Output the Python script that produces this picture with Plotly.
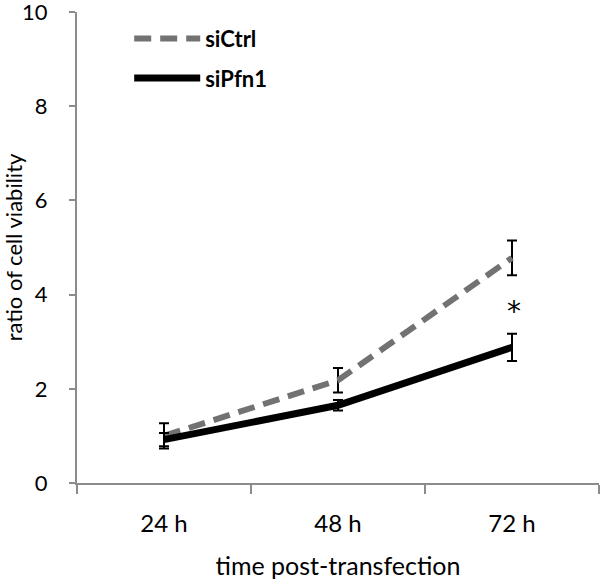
import plotly.graph_objects as go

categories = ["24 h", "48 h", "72 h"]
ctrl_vals = [1.0, 2.18, 4.78]
ctrl_err = [0.27, 0.26, 0.37]
pfn1_vals = [0.92, 1.65, 2.88]
pfn1_err = [0.14, 0.11, 0.29]
series_names = ["siCtrl", "siPfn1"]
y_ticks = [0, 2, 4, 6, 8, 10]
star_label = "*"
star_y = 3.64

FONT = "Lato, 'Open Sans', sans-serif"
AXIS_GRAY = "#8c8c8c"

fig = go.Figure()
fig.add_trace(go.Scatter(
    x=categories, y=ctrl_vals, name=series_names[0], mode="lines",
    line=dict(color="#727272", width=6, dash="17px,9px"),
    error_y=dict(type="data", array=ctrl_err, color="black", thickness=2, width=5),
    legendgroup="a",
))
fig.add_trace(go.Scatter(
    x=categories, y=pfn1_vals, name=series_names[1], mode="lines",
    line=dict(color="black", width=7),
    error_y=dict(type="data", array=pfn1_err, color="black", thickness=2, width=5),
    legendgroup="b",
))
fig.add_annotation(x=categories[2], y=star_y, text=star_label, showarrow=False,
                   font=dict(size=28, color="#000000", family="DejaVu Sans"), xshift=2)

fig.update_layout(
    width=600, height=585,
    margin=dict(l=77, r=1, t=12, b=102, autoexpand=False),
    plot_bgcolor="white", paper_bgcolor="white",
    font=dict(family=FONT, size=23, color="black"),
    showlegend=True,
    legend=dict(x=0.1, y=0.988, xanchor="left", yanchor="top",
                font=dict(size=22, family=FONT, color="black", weight="bold"),
                itemwidth=66, tracegroupgap=8, bgcolor="rgba(0,0,0,0)"),
    xaxis=dict(
        type="category", range=[-0.5, 2.5], tickson="boundaries", automargin=False,
        showline=True, linecolor=AXIS_GRAY, linewidth=2,
        ticks="outside", ticklen=9, tickwidth=2, tickcolor=AXIS_GRAY,
        showgrid=False, zeroline=False,
        tickfont=dict(size=24), ticklabelstandoff=18,
        title=dict(text="time post-transfection", font=dict(size=25), standoff=22),
    ),
    yaxis=dict(
        range=[0, 10], tickvals=y_ticks, automargin=False, ticklabeloverflow="allow",
        showline=True, linecolor=AXIS_GRAY, linewidth=2,
        ticks="outside", ticklen=6, tickwidth=2, tickcolor=AXIS_GRAY,
        showgrid=False, zeroline=False,
        tickfont=dict(size=22), ticklabelstandoff=17,
        title=dict(text="ratio of cell viability", font=dict(size=22), standoff=14),
    ),
)

fig.write_html("out.html", config={"displayModeBar": False},
               post_script="document.body.style.margin='0';")
